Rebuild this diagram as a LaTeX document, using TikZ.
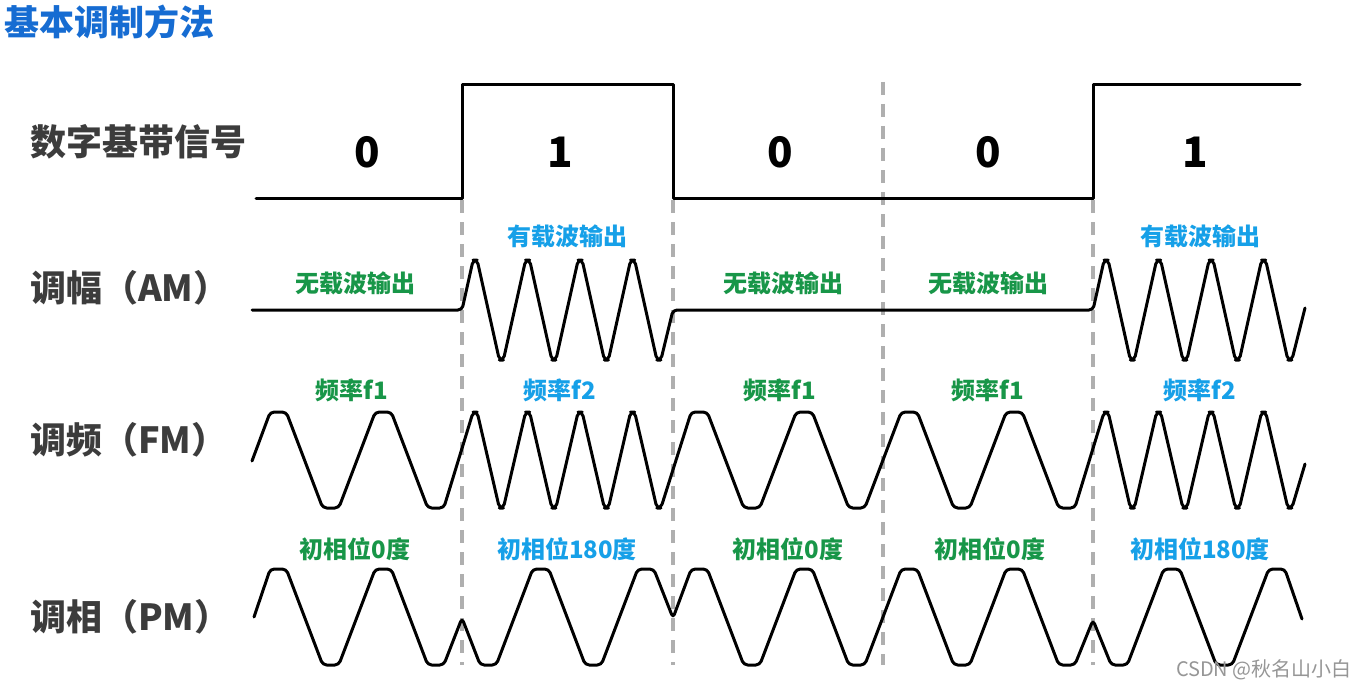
\documentclass[tikz,border=0pt]{standalone}
\usepackage{fontspec}
\setmainfont{Noto Sans CJK SC}
\newfontfamily\cjk{Noto Sans CJK SC}
\definecolor{titleblue}{RGB}{22,108,210}
\definecolor{lblue}{RGB}{22,160,232}
\definecolor{lgreen}{RGB}{24,150,72}
\definecolor{dgray}{RGB}{60,60,60}
\definecolor{dashgray}{RGB}{175,175,175}
\definecolor{wmgray}{RGB}{150,150,150}
\tikzset{
  sig/.style={line width=3pt, line join=round, line cap=round},
  wave/.style={line width=3pt, line join=round, line cap=round, rounded corners=4pt},
  sep/.style={dashgray, line width=3.5pt, dash pattern=on 13pt off 9pt},
  rowlab/.style={font=\cjk\bfseries\fontsize{36}{42}\selectfont, text=dgray, anchor=west, inner sep=0pt},
  glab/.style={font=\cjk\bfseries\fontsize{24}{28}\selectfont, text=lgreen, inner sep=0pt},
  blab/.style={font=\cjk\bfseries\fontsize{24}{28}\selectfont, text=lblue, inner sep=0pt},
  bit/.style={font=\cjk\bfseries\fontsize{42}{48}\selectfont, text=black, inner sep=0pt},
}
\begin{document}
\begin{tikzpicture}[x=1pt,y=-1pt]
\useasboundingbox (0,0) rectangle (1365,690);
\fill[white] (0,0) rectangle (1365,690);

% title
\node[font=\cjk\bfseries\fontsize{35}{40}\selectfont, text=titleblue, anchor=west, inner sep=0pt] (title) at (4,22) {基本调制方法};

% row labels
\node[rowlab] (ldig) at (30,142) {数字基带信号};
\node[rowlab] (lam) at (30,288) {调幅（AM）};
\node[rowlab] (lfm) at (30,440) {调频（FM）};
\node[rowlab] (lpm) at (30,617) {调相（PM）};

% separators
\coordinate (s1t) at (462,200); \coordinate (s1b) at (462,665);
\coordinate (s2t) at (673,200); \coordinate (s2b) at (673,665);
\coordinate (s3t) at (883,82);  \coordinate (s3b) at (883,665);
\coordinate (s4t) at (1093,200); \coordinate (s4b) at (1093,665);
\draw[sep] (s1t) -- (s1b);
\draw[sep] (s2t) -- (s2b);
\draw[sep] (s3t) -- (s3b);
\draw[sep] (s4t) -- (s4b);

% digital baseband signal
\coordinate (d0) at (256,198);
\draw[sig] (d0) -- (462,198) -- (462,85) -- (673,85) -- (673,198) -- (1093,198) -- (1093,85) -- (1300,85);
\node[bit] (b1) at (367,152) {0};
\node[bit] (b2) at (560,152) {1};
\node[bit] (b3) at (780,152) {0};
\node[bit] (b4) at (988,152) {0};
\node[bit] (b5) at (1195,152) {1};

% AM
\coordinate (am0) at (252,310);
\draw[wave] (am0) -- (462,310)
  \foreach \k in {0,...,7} { -- ({462+52.5/4+\k*52.5/2-2},{310-50*cos(180*\k)}) -- ({462+52.5/4+\k*52.5/2+2},{310-50*cos(180*\k)}) }
  -- (673,310) -- (1093,310)
  \foreach \k in {0,...,7} { -- ({1093+52.5/4+\k*52.5/2-2},{310-50*cos(180*\k)}) -- ({1093+52.5/4+\k*52.5/2+2},{310-50*cos(180*\k)}) }
  -- (1305,308);
\node[glab] (am1) at (355,283) {无载波输出};
\node[blab] (am2) at (567,236) {有载波输出};
\node[glab] (am3) at (783,283) {无载波输出};
\node[glab] (am4) at (988,283) {无载波输出};
\node[blab] (am5) at (1200,236) {有载波输出};

% FM
\coordinate (fm0) at (252,461);
\draw[wave] (fm0)
  \foreach \k in {0,...,3} { -- ({252+105/4+\k*105/2-8},{460-48*cos(180*\k)}) -- ({252+105/4+\k*105/2+8},{460-48*cos(180*\k)}) }
  \foreach \k in {0,...,7} { -- ({462+52.5/4+\k*52.5/2-2},{460-48*cos(180*\k)}) -- ({462+52.5/4+\k*52.5/2+2},{460-48*cos(180*\k)}) }
  \foreach \k in {0,...,7} { -- ({673+105/4+\k*105/2-8},{460-48*cos(180*\k)}) -- ({673+105/4+\k*105/2+8},{460-48*cos(180*\k)}) }
  \foreach \k in {0,...,7} { -- ({1093+52.5/4+\k*52.5/2-2},{460-48*cos(180*\k)}) -- ({1093+52.5/4+\k*52.5/2+2},{460-48*cos(180*\k)}) }
  -- (1305,464);
\node[glab] (fm1) at (352,390) {频率f1};
\node[blab] (fm2) at (560,390) {频率f2};
\node[glab] (fm3) at (780,390) {频率f1};
\node[glab] (fm4) at (988,390) {频率f1};
\node[blab] (fm5) at (1200,390) {频率f2};

% PM
\coordinate (pm0) at (254,617);
\draw[wave] (pm0)
  \foreach \k in {0,...,3} { -- ({252+105/4+\k*105/2-8},{617-48*cos(180*\k)}) -- ({252+105/4+\k*105/2+8},{617-48*cos(180*\k)}) }
  -- (462,618)
  \foreach \k in {0,...,3} { -- ({462+105/4+\k*105/2-8},{617+48*cos(180*\k)}) -- ({462+105/4+\k*105/2+8},{617+48*cos(180*\k)}) }
  -- (673,618)
  \foreach \k in {0,...,7} { -- ({673+105/4+\k*105/2-8},{617-48*cos(180*\k)}) -- ({673+105/4+\k*105/2+8},{617-48*cos(180*\k)}) }
  -- (1093,620)
  \foreach \k in {0,...,3} { -- ({1093+105/4+\k*105/2-8},{617+48*cos(180*\k)}) -- ({1093+105/4+\k*105/2+8},{617+48*cos(180*\k)}) }
  -- (1302,619);
\node[glab] (pm1) at (355,549) {初相位0度};
\node[blab] (pm2) at (567,549) {初相位180度};
\node[glab] (pm3) at (788,549) {初相位0度};
\node[glab] (pm4) at (990,549) {初相位0度};
\node[blab] (pm5) at (1200,549) {初相位180度};

% watermark
\node[font=\cjk\fontsize{20}{22}\selectfont, text=wmgray, anchor=east, inner sep=0pt] (wm) at (1352,670) {CSDN @秋名山小白};
\end{tikzpicture}
\end{document}
